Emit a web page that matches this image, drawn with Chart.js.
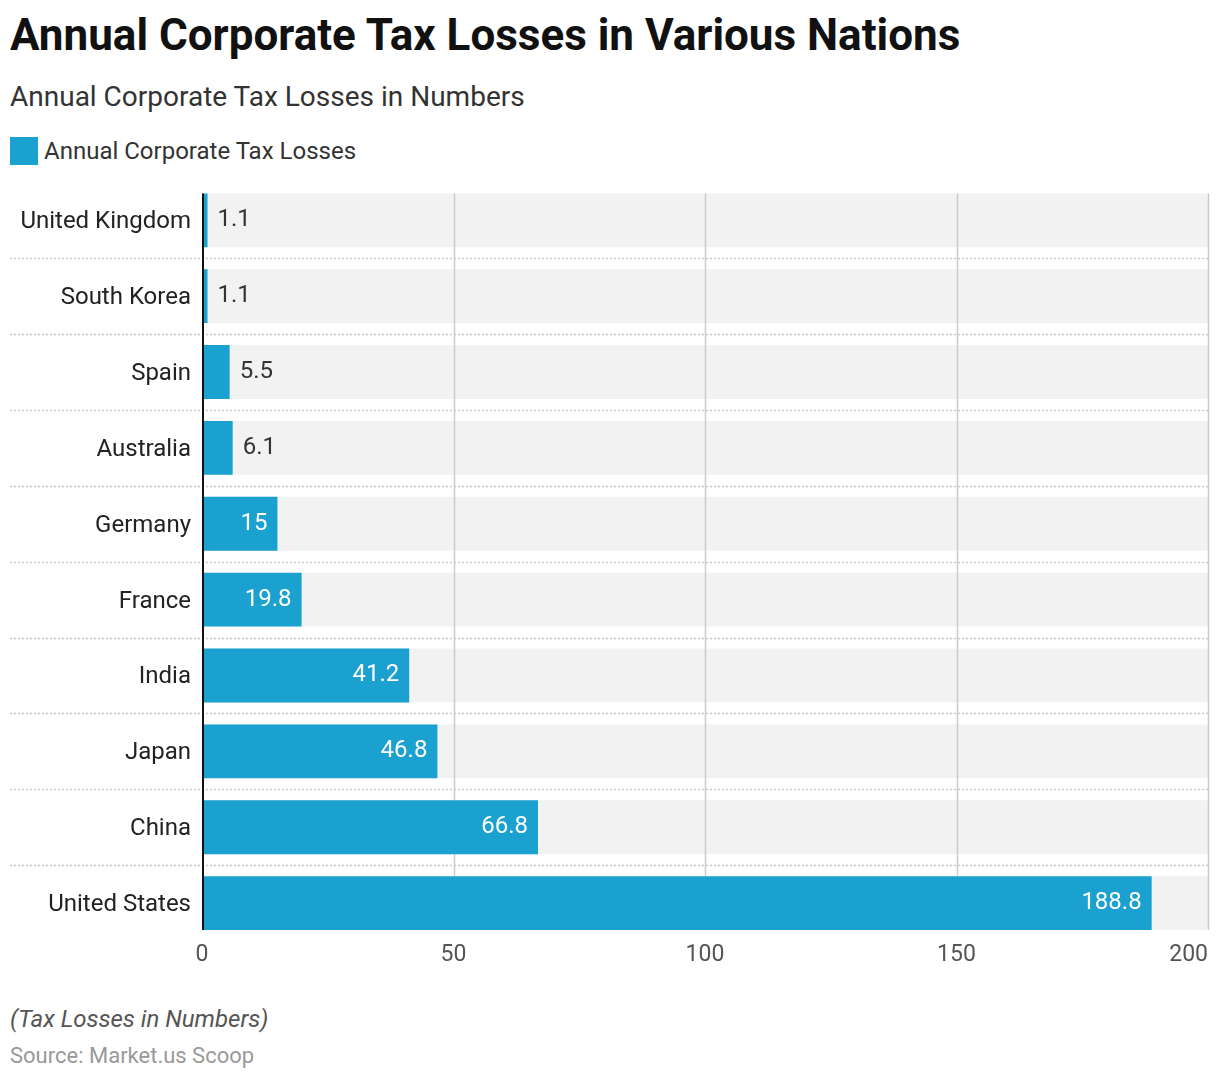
<!DOCTYPE html>
<html>
<head>
<meta charset="utf-8">
<script src="https://cdn.jsdelivr.net/npm/chart.js@4.4.1/dist/chart.umd.min.js"></script>
<style>
    body { margin: 0; background: #fff; font-family: Roboto, sans-serif; }
    .page { position: relative; width: 1220px; height: 1082px; overflow: hidden; }
    #title { position: absolute; left: 10px; top: 9px; font-size: 44px; font-weight: 700; color: #111; white-space: nowrap; }
    #subtitle { position: absolute; left: 10px; top: 80px; font-size: 28px; color: #333; white-space: nowrap; }
    #legend { position: absolute; left: 10px; top: 137px; height: 28px; display: flex; align-items: center; font-size: 24px; color: #333; }
    #legend .box { width: 28px; height: 28px; background: #1ba1cf; margin-right: 6px; }
    #chartWrap { position: absolute; left: 0; top: 157px; width: 1220px; height: 824px; }
    #note { position: absolute; left: 10px; top: 1005px; font-size: 24px; font-style: italic; color: #555; }
    #source { position: absolute; left: 10px; top: 1043px; font-size: 22px; color: #999; }
</style>
</head>
<body>
<div class="page">
    <div id="title">Annual Corporate Tax Losses in Various Nations</div>
    <div id="subtitle">Annual Corporate Tax Losses in Numbers</div>
    <div id="legend"><span class="box"></span><span>Annual Corporate Tax Losses</span></div>
    <div id="chartWrap"><canvas id="taxChart" width="1220" height="824"></canvas></div>
    <div id="note">(Tax Losses in Numbers)</div>
    <div id="source">Source: Market.us Scoop</div>
</div>
<script>
const countries = ["United Kingdom", "South Korea", "Spain", "Australia", "Germany",
    "France", "India", "Japan", "China", "United States"];
const taxLosses = [1.1, 1.1, 5.5, 6.1, 15, 19.8, 41.2, 46.8, 66.8, 188.8];
const xTicks = [0, 50, 100, 150, 200];

const barColor = '#1ba1cf';
const fontFamily = 'Roboto, sans-serif';

// grey rows, grid lines, dotted separators, axis line, value labels and x ticks
const decorPlugin = {
    id: 'decor',
    beforeDatasetsDraw(chart) {
        const ctx = chart.ctx;
        const area = chart.chartArea;
        const bars = chart.getDatasetMeta(0).data;
        const xScale = chart.scales.x;
        const top = bars[0].y - bars[0].height / 2;
        const last = bars[bars.length - 1];
        const bottom = last.y + last.height / 2;
        ctx.save();

        ctx.fillStyle = '#f2f2f2';
        bars.forEach(bar => {
            ctx.fillRect(area.left, bar.y - bar.height / 2, xScale.getPixelForValue(200) - area.left, bar.height);
        });

        ctx.strokeStyle = '#cccccc';
        ctx.lineWidth = 1.5;
        xTicks.slice(1).forEach(v => {
            const x = Math.round(xScale.getPixelForValue(v)) + 0.5;
            ctx.beginPath();
            ctx.moveTo(x, top);
            ctx.lineTo(x, bottom);
            ctx.stroke();
        });

        ctx.strokeStyle = '#c8c8c8';
        ctx.lineWidth = 1.5;
        ctx.setLineDash([2, 2]);
        for (let i = 0; i < bars.length - 1; i++) {
            const y = Math.round((bars[i].y + bars[i + 1].y) / 2) + 0.5;
            ctx.beginPath();
            ctx.moveTo(10, y);
            ctx.lineTo(area.right, y);
            ctx.stroke();
        }
        ctx.restore();
    },
    afterDatasetsDraw(chart) {
        const ctx = chart.ctx;
        const area = chart.chartArea;
        const bars = chart.getDatasetMeta(0).data;
        const xScale = chart.scales.x;
        const top = bars[0].y - bars[0].height / 2;
        const last = bars[bars.length - 1];
        const bottom = last.y + last.height / 2;
        ctx.save();

        ctx.strokeStyle = '#111';
        ctx.lineWidth = 2;
        ctx.beginPath();
        ctx.moveTo(area.left + 1, top);
        ctx.lineTo(area.left + 1, bottom);
        ctx.stroke();

        ctx.font = '24px ' + fontFamily;
        ctx.textBaseline = 'middle';
        bars.forEach((bar, i) => {
            const label = String(taxLosses[i]);
            const w = ctx.measureText(label).width;
            const barW = bar.x - area.left;
            if (w + 20 < barW) {
                ctx.fillStyle = '#ffffff';
                ctx.textAlign = 'right';
                ctx.fillText(label, bar.x - 10, bar.y);
            } else {
                ctx.fillStyle = '#333333';
                ctx.textAlign = 'left';
                ctx.fillText(label, bar.x + 10, bar.y);
            }
        });

        ctx.font = '23px ' + fontFamily;
        ctx.fillStyle = '#555555';
        xTicks.forEach((v, i) => {
            const x = xScale.getPixelForValue(v);
            ctx.textAlign = i === xTicks.length - 1 ? 'right' : 'center';
            ctx.fillText(String(v), x, area.bottom + 14);
        });
        ctx.restore();
    }
};

new Chart(document.getElementById('taxChart').getContext('2d'), {
    type: 'bar',
    data: {
        labels: countries,
        datasets: [{
            label: 'Annual Corporate Tax Losses',
            data: taxLosses,
            backgroundColor: barColor,
            borderWidth: 0,
            categoryPercentage: 1,
            barPercentage: 0.71
        }]
    },
    options: {
        indexAxis: 'y',
        responsive: false,
        animation: false,
        layout: { padding: { left: 10, right: 12, top: 10, bottom: 0 } },
        plugins: {
            legend: { display: false },
            tooltip: { enabled: false }
        },
        scales: {
            x: {
                min: 0,
                max: 200,
                ticks: { display: false, stepSize: 50 },
                grid: { display: false },
                border: { display: false },
                afterFit: scale => { scale.height = 40; }
            },
            y: {
                grid: { display: false, drawTicks: false },
                border: { display: false },
                ticks: {
                    padding: 11,
                    labelOffset: 2,
                    color: '#222',
                    font: { family: fontFamily, size: 24 }
                },
                afterFit: scale => { scale.width = 192; }
            }
        }
    },
    plugins: [decorPlugin]
});
</script>
</body>
</html>
